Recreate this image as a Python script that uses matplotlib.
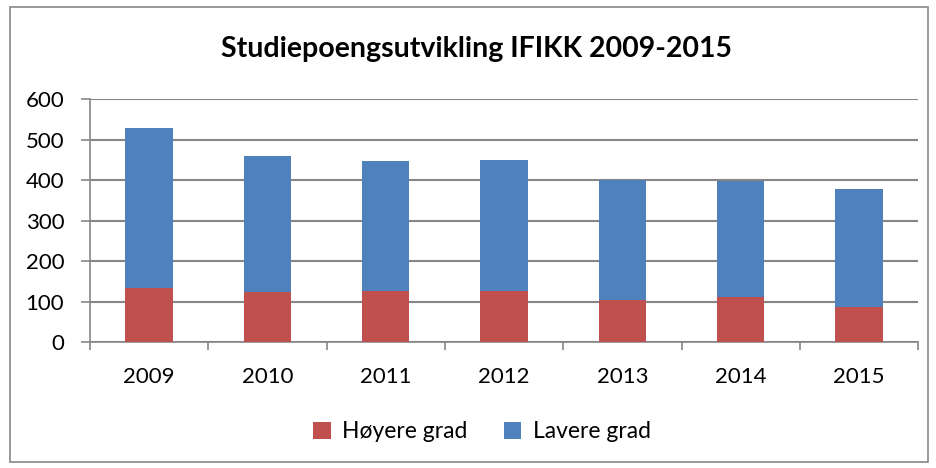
import matplotlib
matplotlib.use("Agg")
import matplotlib.pyplot as plt
import numpy as np
from matplotlib.patches import Rectangle

years = ["2009", "2010", "2011", "2012", "2013", "2014", "2015"]
hoyere = [134, 125, 126, 126, 105, 112, 87]
totals = [529, 459, 447, 449, 401, 399, 377]
lavere = [t - h for t, h in zip(totals, hoyere)]

plt.rcParams['font.family'] = ['Lato', 'DejaVu Sans']

fig = plt.figure(figsize=(9.36, 4.68), dpi=100)
ax = fig.add_axes([0.096, 0.269, 0.885, 0.519])

x = np.arange(len(years))
ax.bar(x, hoyere, width=0.4, color="#C0504D", label="Høyere grad", zorder=3)
ax.bar(x, lavere, width=0.4, bottom=hoyere, color="#4F81BD", label="Lavere grad", zorder=3)

ax.set_ylim(0, 600)
ax.set_yticks(range(0, 601, 100))
ax.set_xlim(-0.5, len(years) - 0.5)
ax.set_xticks(x)
ax.set_xticklabels(years)
ax.set_xticks(np.arange(-0.5, len(years)), minor=True)
ax.tick_params(axis="x", which="major", length=0, pad=18, labelsize=16)
ax.tick_params(axis="x", which="minor", length=6, color="#868686", width=1.2)
ax.tick_params(axis="y", length=6.5, color="#868686", width=1.2, labelsize=16, pad=12)
ax.yaxis.grid(True, color="#868686", linewidth=1.5, zorder=0)

for s in ["top", "right"]:
    ax.spines[s].set_visible(False)
for s in ["left", "bottom"]:
    ax.spines[s].set_color("#868686")
    ax.spines[s].set_linewidth(1.2)

fig.text(0.509, 0.895, "Studiepoengsutvikling IFIKK 2009-2015", ha="center", va="center",
         fontsize=20.5, fontweight="bold")

fig.legend(loc="center", bbox_to_anchor=(0.515, 0.077), ncol=2, frameon=False,
           fontsize=16.5, handlelength=0.75, handleheight=0.75, columnspacing=1.6,
           handletextpad=0.5)

fig.patches.append(Rectangle((10 / 936, 1 - 462 / 468), 918 / 936, 455 / 468,
                             transform=fig.transFigure, fill=False,
                             edgecolor="#878787", linewidth=1.2))

fig.savefig("out.png", dpi=100)
